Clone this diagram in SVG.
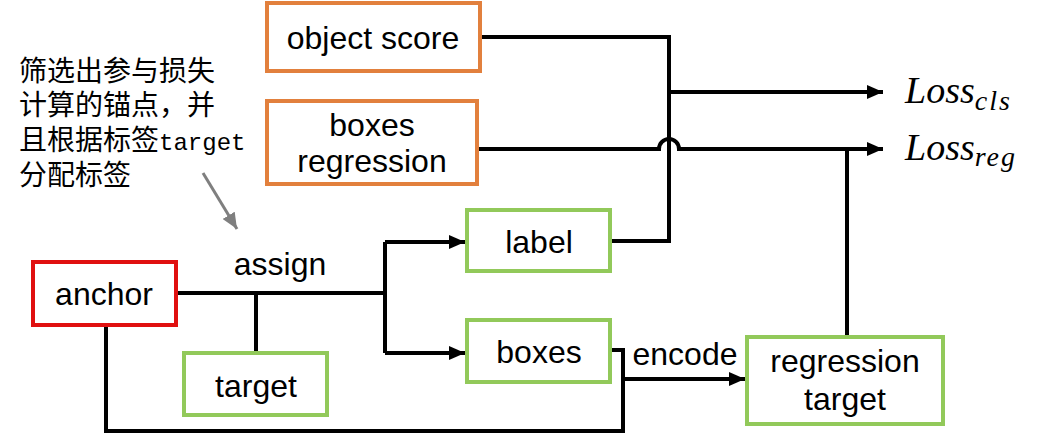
<svg xmlns="http://www.w3.org/2000/svg" width="1048" height="441" viewBox="0 0 1048 441">
<style>
.box{fill:#ffffff;stroke-width:4}
.orange{stroke:#E2803D}
.green{stroke:#92C95A}
.red{stroke:#E01010}
.lbl{font-family:"Liberation Sans",Arial,sans-serif;font-size:32px;fill:#000;text-anchor:middle}
.wire{fill:none;stroke:#000;stroke-width:4}
.loss{font-family:"Liberation Serif","Times New Roman",serif;font-style:italic;fill:#000}
.note{font-family:"Noto Sans CJK SC",sans-serif;font-size:28px;fill:#000}
</style>
<defs>
<marker id="arr" markerUnits="userSpaceOnUse" markerWidth="16" markerHeight="14" refX="16" refY="7" orient="auto">
<path d="M0,0 L16,7 L0,14 z" fill="#000"/>
</marker>
<marker id="arrg" markerUnits="userSpaceOnUse" markerWidth="16" markerHeight="14" refX="16" refY="7" orient="auto">
<path d="M0,0 L16,7 L0,14 z" fill="#7f7f7f"/>
</marker>
</defs>
<rect width="1048" height="441" fill="#ffffff"/>

<g id="connectors">
<path class="wire" d="M481,37 H669 V241 H611"/>
<path class="wire" d="M669,92 H883" marker-end="url(#arr)"/>
<path class="wire" d="M478,149 H659 A10,10 0 0 1 679,149 H883" marker-end="url(#arr)"/>
<path class="wire" d="M847,336 V149"/>
<path class="wire" d="M177,293 H385"/>
<path class="wire" d="M256,293 V353"/>
<path class="wire" d="M385,242 V353"/>
<path class="wire" d="M385,242 H465" marker-end="url(#arr)"/>
<path class="wire" d="M385,353 H465" marker-end="url(#arr)"/>
<path class="wire" d="M611,350 H623 V431 H106 V325"/>
<path class="wire" d="M623,379 H745" marker-end="url(#arr)"/>
<path d="M203,173 L237,229" stroke="#7f7f7f" stroke-width="3" fill="none" marker-end="url(#arrg)"/>
</g>

<g id="object-score">
<rect class="box orange" x="267" y="3" width="213" height="68"/>
<text class="lbl" x="373" y="49">object score</text>
</g>
<g id="boxes-regression">
<rect class="box orange" x="267" y="101" width="210" height="83"/>
<text class="lbl" x="372" y="136">boxes</text>
<text class="lbl" x="372" y="172">regression</text>
</g>
<g id="anchor">
<rect class="box red" x="33" y="262" width="143" height="63"/>
<text class="lbl" x="104" y="305">anchor</text>
</g>
<g id="target">
<rect class="box green" x="184" y="353" width="143" height="62"/>
<text class="lbl" x="256" y="397">target</text>
</g>
<g id="label">
<rect class="box green" x="467" y="210" width="143" height="61"/>
<text class="lbl" x="539" y="253">label</text>
</g>
<g id="boxes">
<rect class="box green" x="467" y="320" width="143" height="62"/>
<text class="lbl" x="539" y="363">boxes</text>
</g>
<g id="regression-target">
<rect class="box green" x="747" y="337" width="196" height="87"/>
<text class="lbl" x="845" y="372">regression</text>
<text class="lbl" x="845" y="410">target</text>
</g>
<g id="loss-cls">
<text class="loss" x="905" y="103" font-size="38">Loss<tspan font-size="28" dy="7" letter-spacing="2">cls</tspan></text>
</g>
<g id="loss-reg">
<text class="loss" x="905" y="160" font-size="38">Loss<tspan font-size="28" dy="6" letter-spacing="2">reg</tspan></text>
</g>
<g id="assign-label">
<text class="lbl" x="280" y="275">assign</text>
</g>
<g id="encode-label">
<text class="lbl" x="685" y="365">encode</text>
</g>
<g id="note">
<text class="note" x="19" y="81">筛选出参与损失<tspan x="19" dy="34">计算的锚点，并</tspan><tspan x="19" dy="35">且根据标签</tspan><tspan font-family="Liberation Mono, monospace" font-size="24">target</tspan><tspan x="19" dy="35">分配标签</tspan></text>
</g>
</svg>
